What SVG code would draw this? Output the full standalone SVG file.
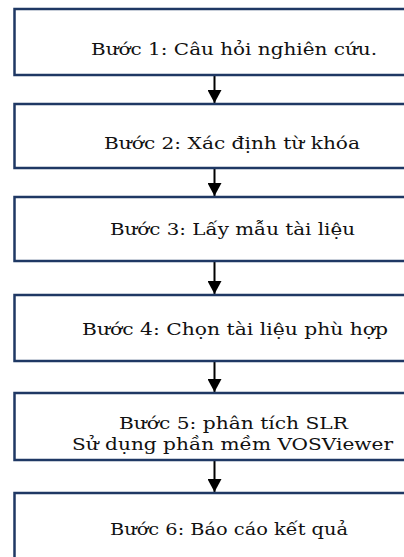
<svg xmlns="http://www.w3.org/2000/svg" width="404" height="557" viewBox="0 0 404 557">
  <defs>
    <style>
      .box { fill: #ffffff; stroke: #1f3864; stroke-width: 2.5; }
      .lbl { font-family: "DejaVu Serif", "Liberation Serif", serif; font-size: 17px; fill: #111111; }
      .conn { stroke: #000000; stroke-width: 2; fill: none; marker-end: url(#arrow); }
    </style>
    <marker id="arrow" markerUnits="userSpaceOnUse" markerWidth="14" markerHeight="14" refX="13" refY="7" orient="auto">
      <path d="M0,0 L13,7 L0,14 Z" fill="#000000"/>
    </marker>
  </defs>
  <rect width="404" height="557" fill="#ffffff"/>
  <g id="connectors">
    <line class="conn" x1="214.5" y1="75" x2="214.5" y2="103"/>
    <line class="conn" x1="214.5" y1="168" x2="214.5" y2="196"/>
    <line class="conn" x1="214.5" y1="261" x2="214.5" y2="294"/>
    <line class="conn" x1="214.5" y1="361" x2="214.5" y2="392"/>
    <line class="conn" x1="214.5" y1="460" x2="214.5" y2="492"/>
  </g>
  <g id="step1">
    <rect class="box" x="14.5" y="9" width="400" height="66"/>
    <text class="lbl" x="91" y="55" textLength="286" lengthAdjust="spacingAndGlyphs">Bước 1: Câu hỏi nghiên cứu.</text>
  </g>
  <g id="step2">
    <rect class="box" x="14.5" y="104" width="400" height="64"/>
    <text class="lbl" x="104" y="149" textLength="256" lengthAdjust="spacingAndGlyphs">Bước 2: Xác định từ khóa</text>
  </g>
  <g id="step3">
    <rect class="box" x="14.5" y="197" width="400" height="64"/>
    <text class="lbl" x="110" y="235" textLength="245" lengthAdjust="spacingAndGlyphs">Bước 3: Lấy mẫu tài liệu</text>
  </g>
  <g id="step4">
    <rect class="box" x="14.5" y="295" width="400" height="66"/>
    <text class="lbl" x="82" y="335" textLength="306" lengthAdjust="spacingAndGlyphs">Bước 4: Chọn tài liệu phù hợp</text>
  </g>
  <g id="step5">
    <rect class="box" x="14.5" y="393" width="400" height="67"/>
    <text class="lbl" x="119" y="429" textLength="229" lengthAdjust="spacingAndGlyphs">Bước 5: phân tích SLR</text>
    <text class="lbl" x="72" y="450" textLength="321" lengthAdjust="spacingAndGlyphs">Sử dụng phần mềm VOSViewer</text>
  </g>
  <g id="step6">
    <rect class="box" x="14.5" y="493" width="400" height="80"/>
    <text class="lbl" x="110" y="535" textLength="238" lengthAdjust="spacingAndGlyphs">Bước 6: Báo cáo kết quả</text>
  </g>
</svg>
